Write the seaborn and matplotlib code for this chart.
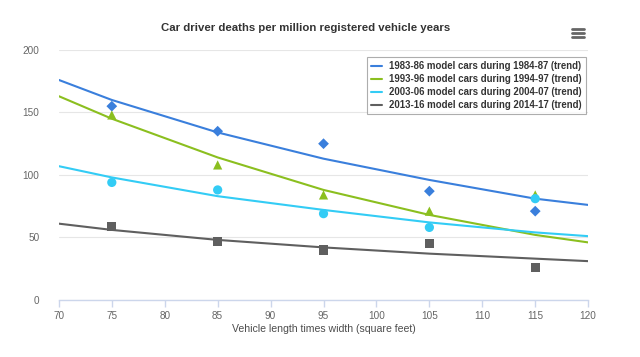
import pandas as pd
import matplotlib
matplotlib.use('Agg')
import matplotlib.pyplot as plt
from matplotlib.lines import Line2D
import seaborn as sns

# observed values (markers)
sizes = [75, 85, 95, 105, 115]
deaths_8386 = [155, 135, 125, 87, 71]
deaths_9396 = [148, 108, 84, 71, 84]
deaths_0306 = [94, 88, 69, 58, 81]
deaths_1316 = [59, 47, 40, 45, 26]

# trend lines at the axis ends and at each size
trend_x = [70, 75, 85, 95, 105, 115, 120]
trend_8386 = [176, 160, 134, 113, 96, 81, 76]
trend_9396 = [163, 145, 114, 88, 68, 52, 46]
trend_0306 = [107, 98, 83, 72, 62, 54, 51]
trend_1316 = [61, 56, 48, 42, 37, 33, 31]

labels = ['1983-86 model cars during 1984-87 (trend)',
          '1993-96 model cars during 1994-97 (trend)',
          '2003-06 model cars during 2004-07 (trend)',
          '2013-16 model cars during 2014-17 (trend)']
colors = ['#3a7fdc', '#8bbf1f', '#33ccf5', '#5f5f5f']
markers = ['D', '^', 'o', 's']

pts = pd.DataFrame({
    'size': sizes * 4,
    'deaths': deaths_8386 + deaths_9396 + deaths_0306 + deaths_1316,
    'group': [l for l in labels for _ in sizes],
})
trend = pd.DataFrame({
    'size': trend_x * 4,
    'deaths': trend_8386 + trend_9396 + trend_0306 + trend_1316,
    'group': [l for l in labels for _ in trend_x],
})

sns.set_theme(style='white')
plt.rcParams['font.family'] = ['Liberation Sans', 'DejaVu Sans']

fig = plt.figure(figsize=(6.4, 3.57), dpi=100)
ax = fig.add_axes([0.092, 0.16, 0.827, 0.70])

palette = dict(zip(labels, colors))
sns.lineplot(data=trend, x='size', y='deaths', hue='group', palette=palette,
             linewidth=1.5, ax=ax, legend=True)
for lab, m in zip(labels, markers):
    sub = pts[pts['group'] == lab]
    sns.scatterplot(data=sub, x='size', y='deaths', color=palette[lab],
                    marker=m, s=44 if m != 'D' else 30, edgecolor='none',
                    ax=ax, legend=False, zorder=3)

ax.set_xlim(70, 120)
ax.set_ylim(0, 200)
ax.set_xticks(range(70, 121, 5))
ax.set_yticks(range(0, 201, 50))
ax.grid(axis='y', color='#e6e6e6', linewidth=0.8)
ax.set_axisbelow(True)
for s in ['left', 'right', 'top']:
    ax.spines[s].set_visible(False)
ax.spines['bottom'].set_color('#ccd6eb')
ax.spines['bottom'].set_linewidth(1)
ax.tick_params(axis='x', colors='#ccd6eb', length=5, width=1, direction='out',
               labelcolor='#666666', labelsize=7.2, pad=3, bottom=True)
ax.tick_params(axis='y', length=0, labelcolor='#666666', labelsize=7.2, pad=14)
ax.set_xlabel('Vehicle length times width (square feet)', fontsize=7.6,
              color='#4d4d4d', labelpad=2)
ax.set_ylabel('')

leg = ax.legend(loc='upper right', bbox_to_anchor=(0.995, 0.972), frameon=True,
                fancybox=False, edgecolor='#999999', fontsize=6.9,
                handlelength=1.1, handletextpad=0.7, borderpad=0.45,
                labelspacing=0.3, borderaxespad=0)
leg.get_frame().set_linewidth(0.8)
for t in leg.get_texts():
    t.set_fontweight('bold')
    t.set_color('#333333')

fig.text(0.477, 0.922, 'Car driver deaths per million registered vehicle years',
         ha='center', va='center', fontsize=8.2, fontweight='bold', color='#333333')

# export menu icon
for yy in [0.895, 0.907, 0.919]:
    fig.add_artist(Line2D([0.893, 0.913], [yy, yy], color='#666666',
                          linewidth=2.0, transform=fig.transFigure))

fig.savefig('out.png', dpi=100)
